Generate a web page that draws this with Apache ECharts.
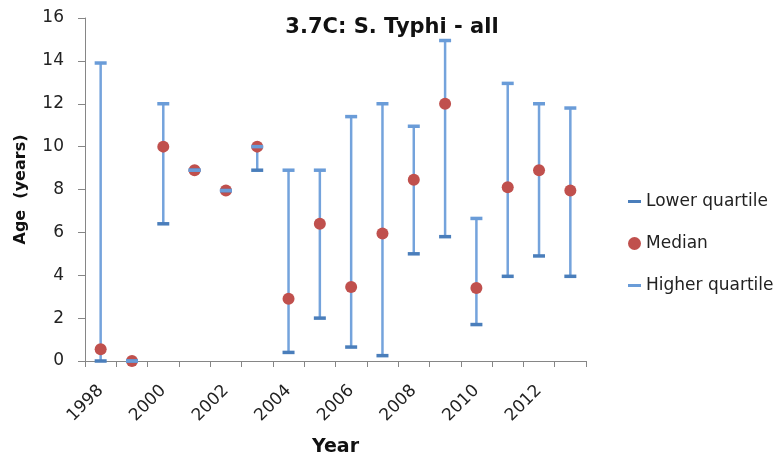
<!DOCTYPE html>
<html>
<head>
<meta charset="utf-8">
<script src="https://cdn.jsdelivr.net/npm/echarts@6/dist/echarts.min.js"></script>
<style>
  html, body { margin: 0; padding: 0; background: #fff; }
  #chart { width: 779px; height: 464px; }
</style>
</head>
<body>
<div id="chart"></div>
<script>
// S. Typhi age quartiles by year
const years = ['1998', '1999', '2000', '2001', '2002', '2003', '2004', '2005',
               '2006', '2007', '2008', '2009', '2010', '2011', '2012', '2013']
const lowerQuartile  = [0,    0, 6.4, 8.9, 7.95, 8.9, 0.4, 2.0, 0.65, 0.25, 5.0, 5.8, 1.7, 3.95, 4.9, 3.95]
const median         = [0.55, 0, 10,  8.9, 7.95, 10,  2.9, 6.4, 3.45, 5.95, 8.45, 12, 3.4, 8.1,  8.9, 7.95]
const higherQuartile = [13.9, 0, 12,  8.9, 7.95, 10,  8.9, 8.9, 11.4, 12,  10.95, 14.95, 6.65, 12.95, 12, 11.8]
const yTicks = [0, 2, 4, 6, 8, 10, 12, 14, 16]

const font = 'DejaVu Sans'
const dashIcon = 'path://M0,5 L13,5 L13,8 L0,8 Z'
const chart = echarts.init(document.getElementById('chart'))

chart.setOption({
    animation: false,
    textStyle: { fontFamily: font },
    title: {
        text: '3.7C: S. Typhi - all',
        left: 387, top: 12, textAlign: 'center',
        textStyle: { fontSize: 21, fontWeight: 'bold', color: '#111', fontFamily: font }
    },
    legend: {
        orient: 'vertical',
        left: 623, top: 188,
        itemGap: 25,
        itemWidth: 13, itemHeight: 13,
        textStyle: { fontSize: 17, color: '#222', fontFamily: font },
        data: [
            { name: 'Lower quartile', icon: dashIcon, itemStyle: { color: '#4a7ebb' } },
            { name: 'Median', icon: 'circle' },
            { name: 'Higher quartile', icon: dashIcon, itemStyle: { color: '#6a9cd8' } }
        ]
    },
    grid: { left: 85, right: 193, top: 18, bottom: 103, outerBoundsMode: 'none' },
    xAxis: {
        type: 'category',
        data: years,
        name: 'Year',
        nameLocation: 'middle',
        nameGap: 77,
        nameTextStyle: { fontSize: 19, fontWeight: 'bold', color: '#111', fontFamily: font },
        axisLine: { lineStyle: { color: '#868686', width: 1 } },
        axisTick: { show: true, interval: 0, length: 6, lineStyle: { color: '#868686' } },
        axisLabel: {
            interval: 1, rotate: 45, fontSize: 17, color: '#222', margin: 27,
            fontFamily: font, overflow: 'none', hideOverlap: false
        },
        splitLine: { show: false }
    },
    yAxis: {
        type: 'value',
        min: 0, max: 16, interval: 2,
        name: 'Age  (years)',
        nameLocation: 'middle',
        nameGap: 56,
        nameTextStyle: { fontSize: 16, fontWeight: 'bold', color: '#111', fontFamily: font },
        axisLine: { show: true, lineStyle: { color: '#868686', width: 1 } },
        axisTick: { show: true, length: 7, lineStyle: { color: '#868686' } },
        axisLabel: {
            fontSize: 17, color: '#222', margin: 21,
            formatter: v => (yTicks.includes(v) ? String(v) : '')
        },
        splitLine: { show: false }
    },
    series: [
        {
            name: 'range',
            type: 'custom',
            silent: true,
            data: years.map((y, i) => [i, lowerQuartile[i], higherQuartile[i]]),
            encode: { x: 0, y: [1, 2] },
            renderItem: (params, api) => {
                const lo = api.coord([api.value(0), api.value(1)])
                const hi = api.coord([api.value(0), api.value(2)])
                return {
                    type: 'line',
                    shape: { x1: lo[0], y1: lo[1], x2: hi[0], y2: hi[1] },
                    style: { stroke: '#74a3dc', lineWidth: 2.5 }
                }
            },
            z: 1
        },
        {
            name: 'Median',
            type: 'scatter',
            data: median,
            symbol: 'circle',
            symbolSize: 12,
            itemStyle: { color: '#c0504d', opacity: 1 },
            z: 2
        },
        {
            name: 'Lower quartile',
            type: 'scatter',
            data: lowerQuartile,
            symbol: 'rect',
            symbolSize: [12, 3.5],
            itemStyle: { color: '#4a7ebb', opacity: 1 },
            z: 3
        },
        {
            name: 'Higher quartile',
            type: 'scatter',
            data: higherQuartile,
            symbol: 'rect',
            symbolSize: [12, 3.5],
            itemStyle: { color: '#6a9cd8', opacity: 1 },
            z: 3
        }
    ]
})
</script>
</body>
</html>
